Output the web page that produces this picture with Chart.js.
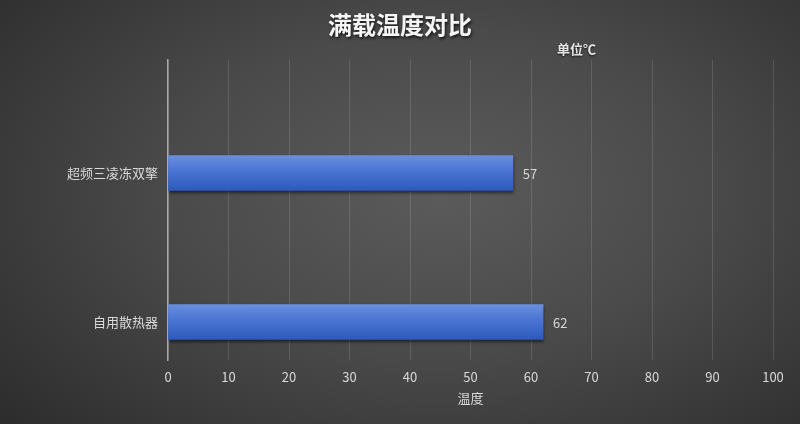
<!DOCTYPE html>
<html>
<head>
<meta charset="utf-8">
<script src="https://cdn.jsdelivr.net/npm/chart.js@4"></script>
<style>
    html, body {
        margin: 0;
        padding: 0;
    }
    body {
        width: 800px;
        height: 424px;
        background: radial-gradient(ellipse 75% 85% at 55% 45%, #5b5b5b 0%, #4a4a4a 45%, #2b2b2b 100%);
    }
    #wrap {
        position: relative;
        width: 800px;
        height: 424px;
    }
</style>
</head>
<body>
<div id="wrap"><canvas id="tempChart"></canvas></div>
<script>
// FULL LOAD TEMPERATURE
// Two coolers compared at full load
const categories = ["超频三凌冻双擎", "自用散热器"];
const temps = [57, 62];
const xMin = 0;
const xMax = 100;
const xStep = 10;

const titleText = "满载温度对比";
const unitText = "单位℃";
const axisTitle = "温度";

const FONT = '"Noto Sans CJK SC", "Microsoft YaHei", sans-serif';
const LABEL_COLOR = "#d9d9d9";

// bar points, category index on the y axis
const points = temps.map((v, i) => ({ x: v, y: i }));

// Title + unit text, with a soft drop shadow like the original
const headerPlugin = {
    id: "header",
    afterDraw(chart) {
        const ctx = chart.ctx;
        ctx.save();
        ctx.shadowColor = "rgba(0,0,0,0.7)";
        ctx.shadowOffsetX = 1;
        ctx.shadowOffsetY = 2;
        ctx.shadowBlur = 3;
        ctx.fillStyle = "#f5f5f5";
        ctx.font = "bold 24px " + FONT;
        ctx.textAlign = "center";
        ctx.textBaseline = "middle";
        ctx.fillText(titleText, 400, 25);

        ctx.shadowOffsetX = 0;
        ctx.shadowOffsetY = 1;
        ctx.shadowBlur = 2;
        ctx.fillStyle = "#e6e6e6";
        ctx.font = "bold 13px " + FONT;
        ctx.textAlign = "left";
        ctx.fillText(unitText, 557, 49);
        ctx.restore();
    }
};

// Blue gradient per bar + shadow + value labels
const barStylePlugin = {
    id: "barStyle",
    afterDatasetsUpdate(chart) {
        const ctx = chart.ctx;
        chart.getDatasetMeta(0).data.forEach(el => {
            const top = el.y - el.height / 2;
            const g = ctx.createLinearGradient(0, top, 0, top + el.height);
            g.addColorStop(0, "#6a8fe0");
            g.addColorStop(0.45, "#4a74d2");
            g.addColorStop(1, "#2d5abb");
            el.options = Object.assign({}, el.options, { backgroundColor: g });
        });
    },
    beforeDatasetsDraw(chart) {
        const ctx = chart.ctx;
        ctx.save();
        ctx.shadowColor = "rgba(0,0,0,0.55)";
        ctx.shadowOffsetX = 1;
        ctx.shadowOffsetY = 2;
        ctx.shadowBlur = 3;
    },
    afterDatasetsDraw(chart) {
        const ctx = chart.ctx;
        ctx.restore();
        ctx.save();
        ctx.fillStyle = LABEL_COLOR;
        ctx.font = "13px " + FONT;
        ctx.textAlign = "left";
        ctx.textBaseline = "middle";
        chart.getDatasetMeta(0).data.forEach((el, i) => {
            ctx.fillText(String(temps[i]), el.x + 10, el.y + 1);
        });
        ctx.restore();
    }
};

new Chart(document.getElementById("tempChart"), {
    type: "bar",
    data: {
        datasets: [{
            label: axisTitle,
            data: points,
            backgroundColor: "#4a74d2",
            borderWidth: 0,
            barThickness: 35
        }]
    },
    options: {
        indexAxis: "y",
        responsive: true,
        maintainAspectRatio: false,
        animation: false,
        layout: {
            padding: { top: 60, right: 27, left: 0, bottom: 0 }
        },
        plugins: {
            legend: { display: false },
            tooltip: { enabled: false }
        },
        scales: {
            x: {
                type: "linear",
                position: "bottom",
                min: xMin,
                max: xMax,
                ticks: {
                    stepSize: xStep,
                    color: LABEL_COLOR,
                    padding: 9,
                    font: { size: 13, family: FONT }
                },
                grid: {
                    color: "rgba(255,255,255,0.13)",
                    lineWidth: 1,
                    drawTicks: false
                },
                border: { display: false },
                title: {
                    display: true,
                    text: axisTitle,
                    color: LABEL_COLOR,
                    font: { size: 13, family: FONT },
                    padding: { top: 4, bottom: 18 }
                },
                afterFit(scale) {
                    scale.height = 64;
                }
            },
            y: {
                type: "linear",
                position: "left",
                reverse: true,
                offset: false,
                min: -0.758,
                max: 1.255,
                afterBuildTicks(scale) {
                    scale.ticks = categories.map((_, i) => ({ value: i }));
                },
                ticks: {
                    color: LABEL_COLOR,
                    padding: 10,
                    font: { size: 13, family: FONT },
                    callback: v => categories[v]
                },
                grid: { display: false, drawTicks: false },
                border: {
                    display: true,
                    color: "#a8a8a8",
                    width: 1.5
                },
                afterFit(scale) {
                    scale.width = 168;
                }
            }
        }
    },
    plugins: [headerPlugin, barStylePlugin]
});
</script>
</body>
</html>
